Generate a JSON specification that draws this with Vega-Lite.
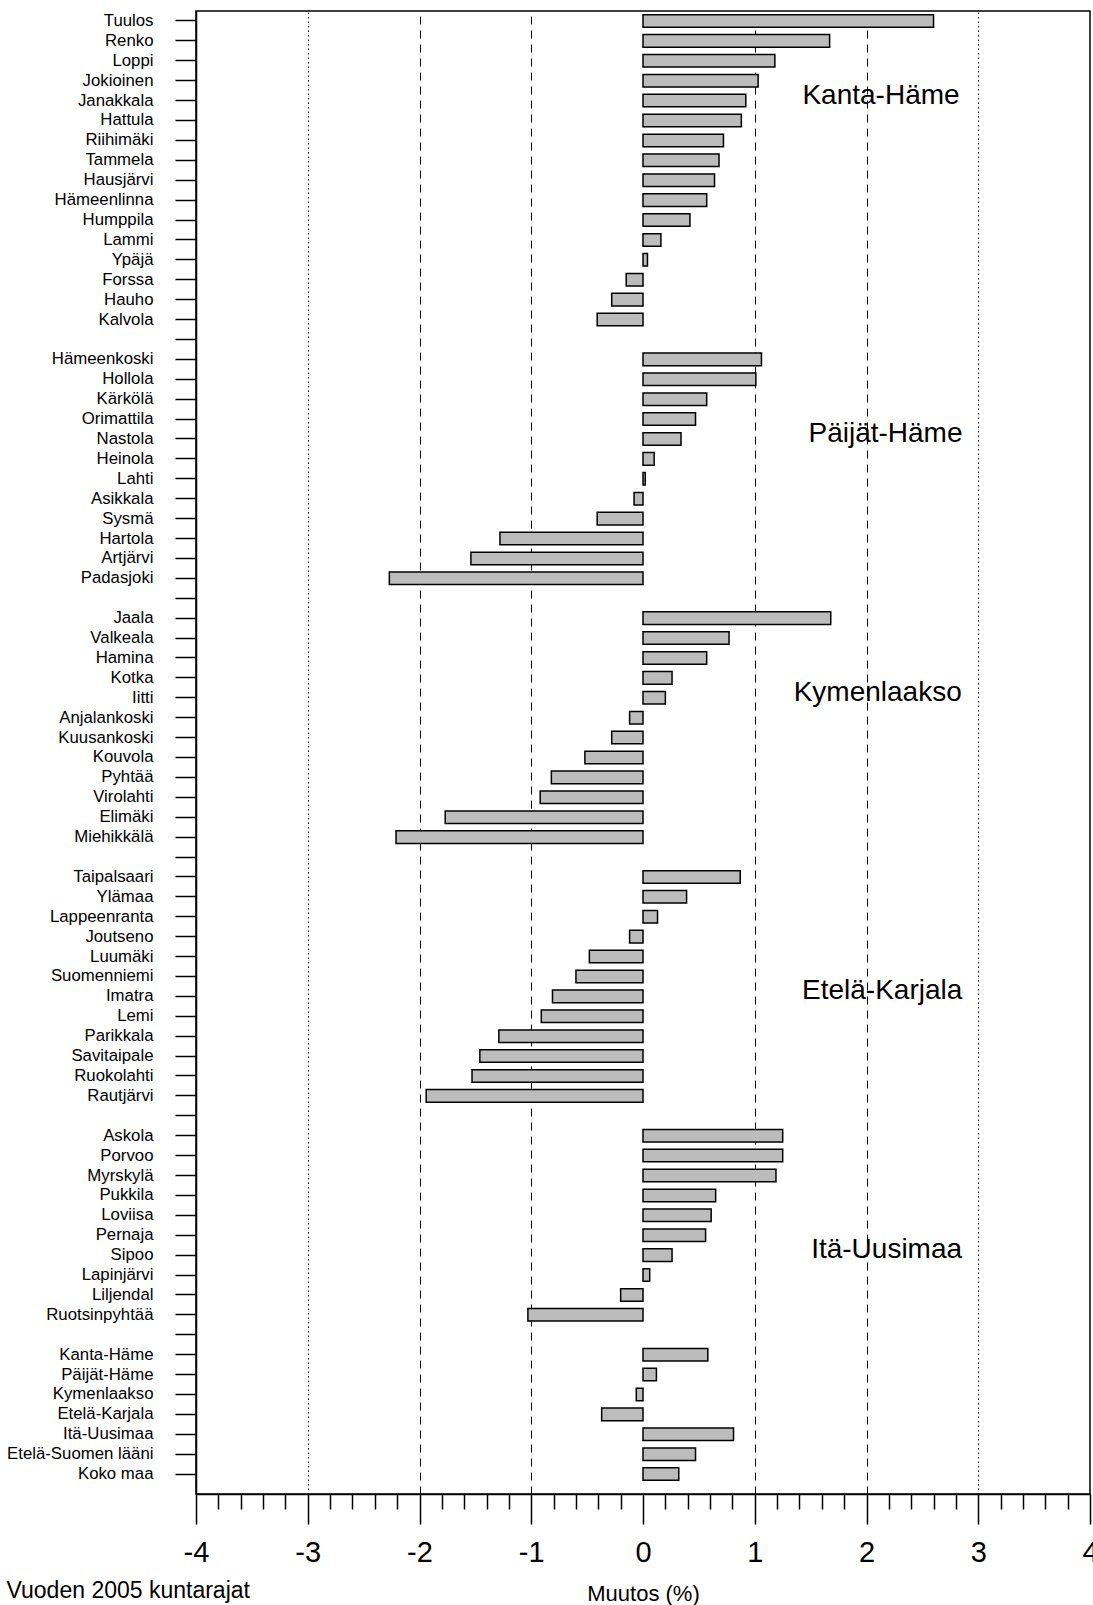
{
  "$schema": "https://vega.github.io/schema/vega-lite/v6.json",
  "width": 894,
  "height": 1483,
  "autosize": {"type": "none"},
  "padding": {"left": 196, "top": 11, "right": 3, "bottom": 111},
  "background": "white",
  "config": {
    "view": {"stroke": "black", "strokeWidth": 1.5},
    "font": "Liberation Sans"
  },
  "title": {
    "text": "Vuoden 2005 kuntarajat",
    "orient": "bottom",
    "anchor": "start",
    "frame": "bounds",
    "font": "Liberation Sans",
    "fontSize": 23,
    "fontWeight": "normal",
    "color": "black",
    "offset": -24,
    "dx": 0
  },
  "datasets": {
    "kunnat": [
      {"kunta": "Tuulos", "muutos": 2.60},
      {"kunta": "Renko", "muutos": 1.67},
      {"kunta": "Loppi", "muutos": 1.18},
      {"kunta": "Jokioinen", "muutos": 1.03},
      {"kunta": "Janakkala", "muutos": 0.92},
      {"kunta": "Hattula", "muutos": 0.88},
      {"kunta": "Riihimäki", "muutos": 0.72},
      {"kunta": "Tammela", "muutos": 0.68},
      {"kunta": "Hausjärvi", "muutos": 0.64},
      {"kunta": "Hämeenlinna", "muutos": 0.57},
      {"kunta": "Humppila", "muutos": 0.42},
      {"kunta": "Lammi", "muutos": 0.16},
      {"kunta": "Ypäjä", "muutos": 0.04},
      {"kunta": "Forssa", "muutos": -0.15},
      {"kunta": "Hauho", "muutos": -0.28},
      {"kunta": "Kalvola", "muutos": -0.41},
      {"kunta": "Hämeenkoski", "muutos": 1.06},
      {"kunta": "Hollola", "muutos": 1.01},
      {"kunta": "Kärkölä", "muutos": 0.57},
      {"kunta": "Orimattila", "muutos": 0.47},
      {"kunta": "Nastola", "muutos": 0.34},
      {"kunta": "Heinola", "muutos": 0.10},
      {"kunta": "Lahti", "muutos": 0.02},
      {"kunta": "Asikkala", "muutos": -0.08},
      {"kunta": "Sysmä", "muutos": -0.41},
      {"kunta": "Hartola", "muutos": -1.28},
      {"kunta": "Artjärvi", "muutos": -1.54},
      {"kunta": "Padasjoki", "muutos": -2.27},
      {"kunta": "Jaala", "muutos": 1.68},
      {"kunta": "Valkeala", "muutos": 0.77},
      {"kunta": "Hamina", "muutos": 0.57},
      {"kunta": "Kotka", "muutos": 0.26},
      {"kunta": "Iitti", "muutos": 0.20},
      {"kunta": "Anjalankoski", "muutos": -0.12},
      {"kunta": "Kuusankoski", "muutos": -0.28},
      {"kunta": "Kouvola", "muutos": -0.52},
      {"kunta": "Pyhtää", "muutos": -0.82},
      {"kunta": "Virolahti", "muutos": -0.92},
      {"kunta": "Elimäki", "muutos": -1.77},
      {"kunta": "Miehikkälä", "muutos": -2.21},
      {"kunta": "Taipalsaari", "muutos": 0.87},
      {"kunta": "Ylämaa", "muutos": 0.39},
      {"kunta": "Lappeenranta", "muutos": 0.13},
      {"kunta": "Joutseno", "muutos": -0.12},
      {"kunta": "Luumäki", "muutos": -0.48},
      {"kunta": "Suomenniemi", "muutos": -0.60},
      {"kunta": "Imatra", "muutos": -0.81},
      {"kunta": "Lemi", "muutos": -0.91},
      {"kunta": "Parikkala", "muutos": -1.29},
      {"kunta": "Savitaipale", "muutos": -1.46},
      {"kunta": "Ruokolahti", "muutos": -1.53},
      {"kunta": "Rautjärvi", "muutos": -1.94},
      {"kunta": "Askola", "muutos": 1.25},
      {"kunta": "Porvoo", "muutos": 1.25},
      {"kunta": "Myrskylä", "muutos": 1.19},
      {"kunta": "Pukkila", "muutos": 0.65},
      {"kunta": "Loviisa", "muutos": 0.61},
      {"kunta": "Pernaja", "muutos": 0.56},
      {"kunta": "Sipoo", "muutos": 0.26},
      {"kunta": "Lapinjärvi", "muutos": 0.06},
      {"kunta": "Liljendal", "muutos": -0.20},
      {"kunta": "Ruotsinpyhtää", "muutos": -1.03},
      {"kunta": "Kanta-Häme", "muutos": 0.58},
      {"kunta": "Päijät-Häme", "muutos": 0.12},
      {"kunta": "Kymenlaakso", "muutos": -0.06},
      {"kunta": "Etelä-Karjala", "muutos": -0.37},
      {"kunta": "Itä-Uusimaa", "muutos": 0.81},
      {"kunta": "Etelä-Suomen lääni", "muutos": 0.47},
      {"kunta": "Koko maa", "muutos": 0.32}
    ],
    "maakunnat": [
      {"nimi": "Kanta-Häme", "kunta": "Janakkala", "xpos": 2.13},
      {"nimi": "Päijät-Häme", "kunta": "Nastola", "xpos": 2.17},
      {"nimi": "Kymenlaakso", "kunta": "Iitti", "xpos": 2.10},
      {"nimi": "Etelä-Karjala", "kunta": "Imatra", "xpos": 2.14},
      {"nimi": "Itä-Uusimaa", "kunta": "Sipoo", "xpos": 2.18}
    ]
  },
  "encoding": {
    "y": {
      "field": "kunta",
      "type": "nominal",
      "sort": null,
      "scale": {
        "domain": ["Tuulos","Renko","Loppi","Jokioinen","Janakkala","Hattula","Riihimäki","Tammela","Hausjärvi","Hämeenlinna","Humppila","Lammi","Ypäjä","Forssa","Hauho","Kalvola","_1",
          "Hämeenkoski","Hollola","Kärkölä","Orimattila","Nastola","Heinola","Lahti","Asikkala","Sysmä","Hartola","Artjärvi","Padasjoki","_2",
          "Jaala","Valkeala","Hamina","Kotka","Iitti","Anjalankoski","Kuusankoski","Kouvola","Pyhtää","Virolahti","Elimäki","Miehikkälä","_3",
          "Taipalsaari","Ylämaa","Lappeenranta","Joutseno","Luumäki","Suomenniemi","Imatra","Lemi","Parikkala","Savitaipale","Ruokolahti","Rautjärvi","_4",
          "Askola","Porvoo","Myrskylä","Pukkila","Loviisa","Pernaja","Sipoo","Lapinjärvi","Liljendal","Ruotsinpyhtää","_5",
          "Kanta-Häme","Päijät-Häme","Kymenlaakso","Etelä-Karjala","Itä-Uusimaa","Etelä-Suomen lääni","Koko maa"],
        "paddingInner": 0.37,
        "paddingOuter": 0.435,
        "align": 0.213
      },
      "axis": {
        "title": null,
        "labelExpr": "substring(datum.value, 0, 1) == '_' ? '' : datum.value",
        "labelFont": "Liberation Sans",
        "labelFontSize": 16.8,
        "labelColor": "black",
        "labelPadding": 22,
        "tickSize": 21,
        "tickWidth": 1.5,
        "tickColor": "black",
        "domainColor": "black",
        "domainWidth": 1.5,
        "grid": false
      }
    }
  },
  "layer": [
    {
      "data": {"name": "kunnat"},
      "mark": {"type": "bar", "fill": "#bcbcbc", "stroke": "black", "strokeWidth": 1.5},
      "encoding": {
        "x": {
          "field": "muutos",
          "type": "quantitative",
          "scale": {"domain": [-4, 4], "nice": false, "zero": false},
          "axis": {
            "orient": "bottom",
            "values": [-4, -3, -2, -1, 0, 1, 2, 3, 4],
            "labelExpr": "'' + datum.value",
            "title": "Muutos (%)",
            "titleFont": "Liberation Sans",
            "titleFontSize": 22,
            "titleFontWeight": "normal",
            "titleColor": "black",
            "titlePadding": 16,
            "labelFont": "Liberation Sans",
            "labelFontSize": 29,
            "labelColor": "black",
            "labelPadding": 14,
            "labelFlush": false,
            "labelOverlap": false,
            "tickSize": 30,
            "tickWidth": 1.5,
            "tickColor": "black",
            "domainColor": "black",
            "domainWidth": 1.5,
            "grid": true,
            "gridColor": "black",
            "gridWidth": 1,
            "gridDash": {"condition": {"test": "abs(datum.value) == 3", "value": [1.5, 3]}, "value": [8, 6]},
            "gridOpacity": {"condition": {"test": "abs(datum.value) == 4 || datum.value == 0", "value": 0}, "value": 1}
          }
        }
      }
    },
    {
      "mark": {"type": "rule", "color": "black", "strokeWidth": 1.5},
      "encoding": {
        "x": {"datum": 0, "type": "quantitative", "scale": {"domain": [-4, 4], "nice": false, "zero": false}, "axis": null},
        "y": null
      }
    },
    {
      "data": {"name": "maakunnat"},
      "mark": {"type": "text", "font": "Liberation Sans", "fontSize": 28, "color": "black", "align": "center", "baseline": "middle", "dy": -5},
      "encoding": {
        "x": {
          "field": "xpos",
          "type": "quantitative",
          "scale": {"domain": [-4, 4], "nice": false, "zero": false},
          "axis": {
            "orient": "bottom",
            "values": [-3.8,-3.6,-3.4,-3.2,-2.8,-2.6,-2.4,-2.2,-1.8,-1.6,-1.4,-1.2,-0.8,-0.6,-0.4,-0.2,0.2,0.4,0.6,0.8,1.2,1.4,1.6,1.8,2.2,2.4,2.6,2.8,3.2,3.4,3.6,3.8],
            "labels": false,
            "title": null,
            "grid": false,
            "domain": false,
            "tickSize": 15,
            "tickWidth": 1.5,
            "tickColor": "black"
          }
        },
        "text": {"field": "nimi", "type": "nominal"}
      }
    }
  ],
  "resolve": {"axis": {"x": "independent"}}
}
